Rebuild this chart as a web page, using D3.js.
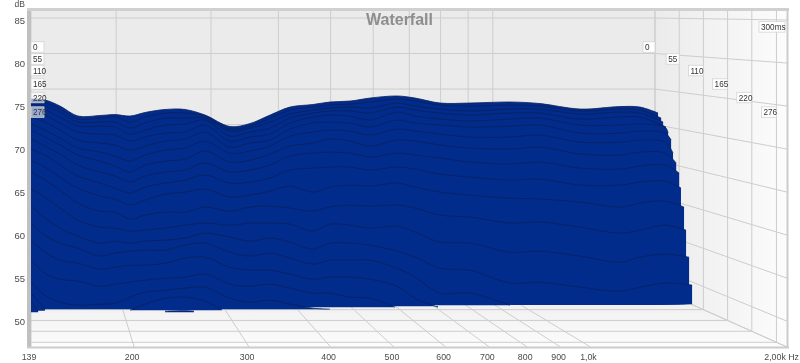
<!DOCTYPE html>
<html><head><meta charset="utf-8">
<style>html,body{margin:0;padding:0;background:#fff}svg{display:block;filter:blur(0.3px)}text{font-family:"Liberation Sans",Arial,sans-serif}</style>
<script src="https://cdn.jsdelivr.net/npm/d3@7"></script>
</head><body><div id="c"></div>
<script>
const title = "Waterfall";
const dbTicks = [85,80,75,70,65,60,55,50];
const freqTicks = [139,200,300,400,500,600,700,800,900,1000,2000];
const freqTickLabels = ["139","200","300","400","500","600","700","800","900","1,0k","2,00k Hz"];
const timeTicks = [0,55,110,165,220,276];
const timeLabelDb = [81.86,80.47,79.13,77.56,75.99,74.30];
const freqColumns = [139,146,154,164,177.3,187,197.1,207.8,223,239.3,256.8,280.4,301,323,346.5,375.8,399,428.3,459.6,505.4,538.6,588.2,653.9,753.1,837,964,1110,1191,1301];
const n = null;
const s01 = [75.81,75.70,75.00,73.84,73.90,74.01,73.84,74.25,74.60,74.60,73.95,72.62,72.97,73.95,74.88,75.18,75.47,75.58,75.93,76.17,75.93,75.35,75.35,75.47,75.29,74.65,74.94,74.88,n];
const s02 = [75.47,75.35,74.65,73.49,73.60,73.72,73.14,73.72,74.19,74.19,73.84,72.33,72.67,73.60,74.53,74.88,75.12,75.23,75.47,75.81,75.58,75.12,75.00,75.12,75.00,74.42,74.65,74.53,n];
const s03 = [75.23,75.00,74.30,73.14,73.14,73.14,72.44,73.02,73.60,73.60,73.60,72.09,72.44,73.14,74.07,74.53,74.77,74.88,74.77,75.35,75.00,74.65,74.42,74.65,74.65,74.07,74.30,74.19,n];
const s04 = [74.88,74.53,73.72,72.67,72.67,72.56,71.74,72.21,72.79,72.91,73.37,71.51,71.98,72.44,73.60,74.19,74.42,74.42,74.19,74.88,74.53,74.19,73.95,74.19,74.19,73.49,73.72,73.72,n];
const s05 = [74.30,73.95,73.02,71.98,71.74,71.63,70.93,71.40,71.86,71.98,72.79,70.93,71.40,71.74,73.02,73.72,73.95,73.84,73.37,74.30,73.84,73.49,73.26,73.49,73.60,72.79,72.79,72.91,72.56];
const s06 = [73.72,73.14,72.21,71.05,70.70,70.47,69.88,70.35,70.93,71.16,71.98,70.23,70.70,71.05,72.33,73.02,73.14,73.02,72.56,73.37,73.02,72.79,72.56,72.67,72.79,71.86,71.86,72.09,71.86];
const s07 = [72.91,72.21,71.28,70.12,69.65,69.19,68.60,69.30,69.88,70.12,70.93,69.53,69.77,70.35,71.51,71.98,72.21,72.09,71.63,72.33,72.09,71.74,71.40,71.40,71.63,70.81,70.81,71.05,70.81];
const s08 = [72.21,71.40,70.47,69.30,68.60,68.02,67.33,68.14,68.60,68.84,69.77,68.49,68.72,69.42,70.35,70.70,71.16,70.93,70.35,71.05,70.93,70.47,70.12,70.00,70.23,69.42,69.30,69.65,69.53];
const s09 = [71.16,70.35,69.42,68.14,67.33,66.86,66.16,66.86,67.33,67.56,68.37,67.33,67.56,68.14,69.19,69.53,69.65,69.53,69.07,69.53,69.30,68.95,68.49,68.26,68.49,67.79,67.67,68.02,68.14];
const s10 = [70.00,69.30,68.14,66.86,66.05,65.47,64.88,65.58,66.05,66.40,66.98,66.05,66.16,66.63,67.56,67.79,67.91,67.91,67.56,67.91,67.67,67.09,66.74,66.40,66.51,65.81,65.81,66.16,66.28];
const s11 = [68.72,67.91,66.74,65.47,64.53,64.19,63.49,64.07,64.77,65.00,65.35,64.42,64.65,65.12,65.70,65.00,65.58,65.81,65.70,66.05,65.58,65.00,64.65,64.30,64.19,63.84,63.26,63.72,63.95];
const s12 = [67.33,66.40,65.23,63.72,62.79,62.67,61.86,62.33,62.67,62.67,63.26,62.79,63.26,63.37,63.14,62.79,63.26,63.49,63.37,63.49,63.14,62.33,62.09,61.40,61.51,60.93,60.23,60.58,61.16];
const s13 = [65.35,64.42,63.14,61.74,60.93,60.81,60.47,60.58,60.81,61.16,61.40,61.16,61.40,61.40,61.28,60.47,61.28,61.16,60.81,61.05,60.35,59.19,59.07,58.02,58.14,57.56,56.86,57.44,57.79];
const s14 = [63.37,61.98,60.81,59.88,59.07,59.30,59.07,59.30,59.42,59.65,60.23,59.77,59.30,59.65,59.19,58.37,59.07,59.07,58.84,58.14,57.44,56.16,55.93,54.42,54.53,53.95,53.49,53.95,54.42];
const s15 = [61.40,60.00,59.07,58.49,57.56,57.91,58.14,58.26,58.26,58.84,59.07,58.02,57.56,57.91,57.33,56.63,57.09,57.09,57.09,56.16,55.12,53.26,53.26];
const s16 = [59.42,58.02,57.09,56.74,56.05,56.28,56.51,56.51,56.74,57.33,57.44,56.28,55.93,55.93,55.47,54.88,55.12,55.12,54.88,54.07,52.67];
const s17 = [57.09,55.58,54.88,54.65,54.07,54.30,54.53,54.77,55.00,55.12,55.47,54.30,54.07,54.30,53.84,53.26,53.26,52.79,52.67];
const s18 = [54.53,53.02,52.21,51.86,51.98,52.09,52.79,53.37,53.60,53.84,53.95,52.67,52.21,52.44,51.98,51.51];
const s19a = [53.26];
const s20a = [52.21];
const s19b = [n,n,n,n,n,n,51.28,51.98,52.67,52.79,52.33];
const s20b = [n,n,n,n,n,n,n,n,51.16,51.22];
const slices = [s01,s02,s03,s04,s05,s06,s07,s08,s09,s10,s11,s12,s13,s14,s15,s16,s17,s18,s19a,s20a,s19b,s20b];
const sliceEndHz = [1269,1283,1292,1305,1315,1329,1338,1353,1367,1376,1391,1401,1416,1431,753,584,502,399,146,142.5,272.7,247];
const sliceEndDb = [74.19,73.60,73.14,72.56,71.86,71.05,69.53,68.37,67.21,65.47,63.26,60.58,57.44,54.19,51.86,51.63,51.63,51.40,51.40,51.16,51.34,51.16];
const sliceFloorDb = [51.98,51.98,51.98,51.98,51.98,51.98,51.98,51.98,51.98,51.98,51.98,51.98,51.98,51.98,51.86,51.74,51.63,51.40,51.22,51.05,51.28,51.05];

const W=800,H=363;
const L=31,Tp=11,R=787,B=347,backR=655;
const xFront=d3.scaleLog().domain([139,2000]).range([L,R]);
const xBack=d3.scaleLog().domain([139,2000]).range([L,backR]);
const yFront=d3.scaleLinear().domain([85,47]).range([20,347]);
const yBack=d3.scaleLinear().domain([85,47]).range([18,288]);
const depth=d3.scaleLinear().domain([0,300]).range([0,1]);
const mix=(a,b,t)=>a+(b-a)*t;
const sideX=t=>mix(backR,R,depth(t));
const floorY=t=>mix(yBack(47),yFront(47),depth(t));

const svg=d3.select("#c").append("svg").attr("width",W).attr("height",H);
const defs=svg.append("defs");
const g1=defs.append("linearGradient").attr("id","side");
g1.append("stop").attr("offset",0).attr("stop-color","#ebebeb");
g1.append("stop").attr("offset",1).attr("stop-color","#fcfcfc");
const g2=defs.append("linearGradient").attr("id","floor").attr("x1",0).attr("x2",0).attr("y1",0).attr("y2",1);
g2.append("stop").attr("offset",0).attr("stop-color","#ececec");
g2.append("stop").attr("offset",1).attr("stop-color","#fcfcfc");

svg.append("rect").attr("x",backR).attr("y",Tp).attr("width",R-backR).attr("height",B-Tp).attr("fill","url(#side)");
svg.append("rect").attr("x",L).attr("y",Tp).attr("width",backR-L).attr("height",yBack(47)-Tp).attr("fill","#ebebeb");
svg.append("polygon").attr("points",[[L,yBack(47)],[backR,yBack(47)],[R,B],[L,B]].join(" ")).attr("fill","url(#floor)");

const grid=svg.append("g").attr("stroke","#cdcdcd").attr("stroke-width",1).attr("fill","none");
const seg=(x1,y1,x2,y2,w)=>grid.append("line").attr("x1",x1).attr("y1",y1).attr("x2",x2).attr("y2",y2).attr("stroke-width",w||1);
dbTicks.forEach(d=>{
  seg(L,yBack(d),backR,yBack(d));
  seg(backR,yBack(d),R,yFront(d));
});
freqTicks.forEach(f=>{
  seg(xBack(f),Tp,xBack(f),yBack(47));
  seg(xBack(f),yBack(47),xFront(f),B);
});
timeTicks.forEach(t=>{
  seg(sideX(t),Tp,sideX(t),floorY(t));
  seg(L,floorY(t),sideX(t),floorY(t));
});
seg(L,yBack(47),backR,yBack(47));
seg(backR,yBack(47),R,B);

const curve=d3.curveCatmullRom.alpha(0.5);
const gs=svg.append("g");
slices.forEach((vals,i)=>{
  const pts=[];
  vals.forEach((v,j)=>{ if(v!==null) pts.push({f:freqColumns[j],v}); });
  pts.push({f:sliceEndHz[i],v:sliceEndDb[i]});
  const floor=yFront(sliceFloorDb[i]);
  const area=d3.area().x(d=>xFront(d.f)).y1(d=>yFront(d.v)).y0(floor).curve(curve);
  const line=d3.line().x(d=>xFront(d.f)).y(d=>yFront(d.v)).curve(curve);
  gs.append("path").attr("d",area(pts)).attr("fill","#012c8b");
  gs.append("path").attr("d",line(pts)).attr("fill","none").attr("stroke","#0a1f5e").attr("stroke-width",0.8);
});

// frame
svg.append("line").attr("x1",29).attr("x2",29).attr("y1",9).attr("y2",B+1).attr("stroke","#c0c0c0").attr("stroke-width",4);
svg.append("line").attr("x1",27).attr("x2",R+2).attr("y1",9.5).attr("y2",9.5).attr("stroke","#d0d0d0").attr("stroke-width",3);
svg.append("line").attr("x1",R+.5).attr("x2",R+.5).attr("y1",9).attr("y2",B+1).attr("stroke","#cccccc").attr("stroke-width",2);
svg.append("line").attr("x1",27).attr("x2",R+2).attr("y1",B+.5).attr("y2",B+.5).attr("stroke","#cccccc").attr("stroke-width",2);

// title
svg.append("text").attr("x",399.5).attr("y",25).attr("text-anchor","middle").attr("font-size",16).attr("font-weight","bold").attr("fill","#8e8e8e").text(title);

// axes labels
const txt="#4a4a4a";
dbTicks.forEach(d=>svg.append("text").attr("x",25).attr("y",yFront(d)+3.5).attr("text-anchor","end").attr("font-size",9.5).attr("fill",txt).text(d));
svg.append("text").attr("x",25).attr("y",7).attr("text-anchor","end").attr("font-size",8.5).attr("fill",txt).text("dB");
freqTicks.forEach((f,i)=>{
  const last=i===freqTicks.length-1;
  svg.append("text").attr("x",last?799:xFront(f)-2).attr("y",359.5).attr("text-anchor",last?"end":"middle").attr("font-size",8.8).attr("fill",txt).text(freqTickLabels[i]);
});

// time labels
function box(xr,cy,w,label,op){
  const h=10.5;
  svg.append("rect").attr("x",xr-w).attr("y",cy-h/2).attr("width",w).attr("height",h).attr("fill","#fff").attr("fill-opacity",op).attr("stroke","#d4d4d4").attr("stroke-width",.8);
  svg.append("text").attr("x",xr-w+2).attr("y",cy+3).attr("font-size",8.2).attr("fill","#333").text(label);
}
timeTicks.forEach((t,i)=>{
  const cy=yFront(timeLabelDb[i]);
  const w=String(t).length===1?12:(String(t).length===2?13:15);
  box(sideX(t),cy,w,String(t),1);
  box(L+13,cy,13,String(t),i>=4?.6:.95);
});
box(R-2,yFront(84.2),26,"300ms",1);
</script></body></html>
